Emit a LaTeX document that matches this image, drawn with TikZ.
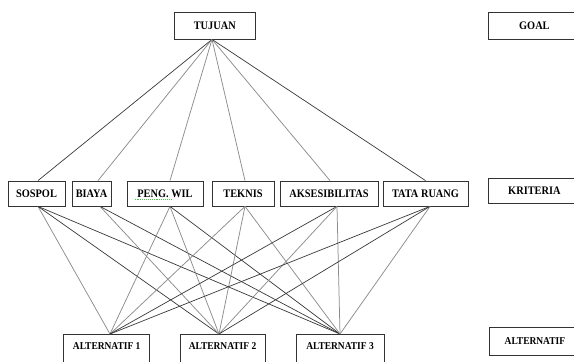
\documentclass[tikz,border=0pt]{standalone}
\usepackage{fontspec}
\setmainfont[FakeStretch=0.9]{Liberation Serif}
\begin{document}
\begin{tikzpicture}[x=1pt,y=-1pt,
  box/.style={draw=black!80,line width=0.8pt,inner sep=0pt,
    font=\fontsize{11.5}{13}\selectfont\bfseries,minimum height=25pt},
  abox/.style={draw=black!80,line width=0.8pt,inner sep=0pt,
    font=\fontsize{10.5}{12}\selectfont\bfseries,text height=14.6pt,text depth=15.4pt,anchor=north},
  dk/.style={draw=black!78,line width=0.7pt},
  lt/.style={draw=black!45,line width=0.75pt}]
\clip (0,0) rectangle (574,362);
\useasboundingbox (0,0) rectangle (574,362);
% goal level
\node[box,minimum width=81.5pt,minimum height=27pt] (tj) at (214.75,25.5) {TUJUAN};
\node[box,minimum width=92pt,minimum height=27pt,anchor=west] (goal) at (488,25.5) {GOAL};
% criteria level
\node[box,minimum width=57pt] (so) at (36.5,193.5) {SOSPOL};
\node[box,minimum width=39pt] (bi) at (91.5,193.5) {BIAYA};
\node[box,minimum width=76pt] (pw) at (165,193.5) {PENG. WIL};
\node[box,minimum width=62pt] (te) at (243,193.5) {TEKNIS};
\node[box,minimum width=98pt] (ak) at (329,193.5) {AKSESIBILITAS};
\node[box,minimum width=85pt] (tr) at (425.5,193.5) {TATA RUANG};
\node[box,minimum width=92pt,anchor=west] (kr) at (488,190.5) {KRITERIA};
% alternatives
\node[abox,minimum width=86pt] (a1) at (106.7,334) {ALTERNATIF 1};
\node[abox,minimum width=85pt] (a2) at (222.5,334) {ALTERNATIF 2};
\node[abox,minimum width=88pt] (a3) at (340,334) {ALTERNATIF 3};
\node[box,font=\fontsize{10.5}{12}\selectfont\bfseries,minimum width=91pt,minimum height=28pt,anchor=west] (al) at (489,341) {ALTERNATIF};
% spell-check underline
\draw[green!65!black!70,line width=0.9pt,densely dotted] ([xshift=8pt,yshift=-6pt]pw.west) -- ([xshift=45pt,yshift=-6pt]pw.west);
% goal to criteria
\draw[dk] ([xshift=-2.75pt]tj.south) -- ([xshift=1.5pt]so.north);
\draw[lt] ([xshift=-2.75pt]tj.south) -- ([xshift=6.5pt]bi.north);
\draw[lt] ([xshift=-2.75pt]tj.south) -- ([xshift=5pt]pw.north);
\draw[lt] ([xshift=-2.75pt]tj.south) -- ([xshift=2pt]te.north);
\draw[lt] ([xshift=-2.75pt]tj.south) -- ([xshift=1pt]ak.north);
\draw[dk] ([xshift=-2.75pt]tj.south) -- (tr.north);
% criteria to alternatives
\draw[lt] ([xshift=1.5pt]so.south) -- ([xshift=3.3pt]a1.north);
\draw[dk] ([xshift=1.5pt]so.south) -- ([xshift=-3.5pt]a2.north);
\draw[dk] ([xshift=1.5pt]so.south) -- (a3.north);
\draw[lt] ([xshift=8.5pt]bi.south) -- ([xshift=-3.5pt]a2.north);
\draw[dk] ([xshift=8.5pt]bi.south) -- (a3.north);
\draw[lt] ([xshift=5pt]pw.south) -- ([xshift=3.3pt]a1.north);
\draw[lt] ([xshift=5pt]pw.south) -- ([xshift=-3.5pt]a2.north);
\draw[dk] ([xshift=5pt]pw.south) -- (a3.north);
\draw[lt] ([xshift=2pt]te.south) -- ([xshift=3.3pt]a1.north);
\draw[lt] ([xshift=2pt]te.south) -- ([xshift=-3.5pt]a2.north);
\draw[lt] ([xshift=2pt]te.south) -- (a3.north);
\draw[dk] ([xshift=8pt]ak.south) -- ([xshift=3.3pt]a1.north);
\draw[lt] ([xshift=8pt]ak.south) -- ([xshift=-3.5pt]a2.north);
\draw[lt] ([xshift=8pt]ak.south) -- (a3.north);
\draw[dk] ([xshift=4.5pt]tr.south) -- ([xshift=3.3pt]a1.north);
\draw[dk] ([xshift=4.5pt]tr.south) -- ([xshift=-3.5pt]a2.north);
\draw[lt] ([xshift=4.5pt]tr.south) -- (a3.north);
\end{tikzpicture}
\end{document}
